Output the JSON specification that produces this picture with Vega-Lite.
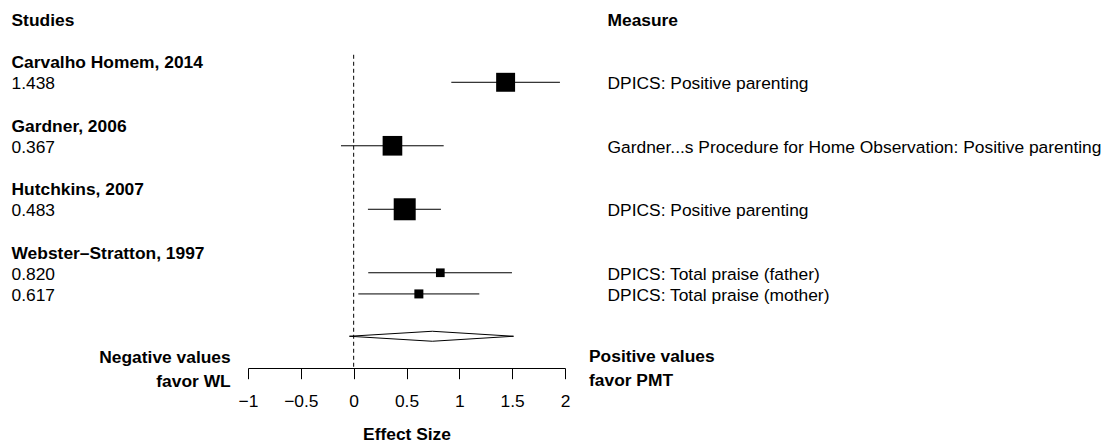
{
  "$schema": "https://vega.github.io/schema/vega-lite/v6.json",
  "width": 1109,
  "height": 368,
  "padding": 0,
  "autosize": {"type": "pad"},
  "background": "white",
  "config": {
    "view": {"stroke": null},
    "font": "Liberation Sans",
    "text": {"font": "Liberation Sans", "fontSize": 17.4, "color": "black"},
    "axis": {
      "grid": false,
      "domainColor": "black",
      "domainWidth": 1,
      "tickColor": "black",
      "tickWidth": 1,
      "tickSize": 10.7,
      "labelColor": "black",
      "labelFont": "Liberation Sans",
      "labelFontSize": 17.4,
      "labelPadding": 14.2,
      "labelFlush": false,
      "labelOverlap": false,
      "titleColor": "black",
      "titleFont": "Liberation Sans",
      "titleFontSize": 17.4,
      "titleFontWeight": "bold",
      "titlePadding": 15
    }
  },
  "datasets": {
    "estimates": [
      {"study": "Carvalho Homem, 2014", "measure": "DPICS: Positive parenting", "es": 1.438, "lo": 0.924, "hi": 1.952, "weight": 24.2, "row": 3},
      {"study": "Gardner, 2006", "measure": "Gardner...s Procedure for Home Observation: Positive parenting", "es": 0.367, "lo": -0.12, "hi": 0.852, "weight": 25.1, "row": 6},
      {"study": "Hutchkins, 2007", "measure": "DPICS: Positive parenting", "es": 0.483, "lo": 0.135, "hi": 0.826, "weight": 28.1, "row": 9},
      {"study": "Webster–Stratton, 1997", "measure": "DPICS: Total praise (father)", "es": 0.82, "lo": 0.138, "hi": 1.498, "weight": 11.1, "row": 12},
      {"study": "Webster–Stratton, 1997", "measure": "DPICS: Total praise (mother)", "es": 0.617, "lo": 0.044, "hi": 1.189, "weight": 11.5, "row": 13}
    ],
    "studies": [
      {"study": "Carvalho Homem, 2014", "row": 2},
      {"study": "Gardner, 2006", "row": 5},
      {"study": "Hutchkins, 2007", "row": 8},
      {"study": "Webster–Stratton, 1997", "row": 11}
    ],
    "summary": [
      {"es": 0.744, "lo": -0.04, "hi": 1.513, "row": 15}
    ]
  },
  "layer": [
    {
      "data": {"values": [{"es": 0}]},
      "mark": {"type": "rule", "color": "black", "strokeWidth": 1, "strokeDash": [4, 3]},
      "encoding": {
        "x": {
          "field": "es",
          "type": "quantitative",
          "title": "Effect Size",
          "scale": {"domain": [-1, 2], "range": [248, 565], "nice": false, "zero": false},
          "axis": {"values": [-1, -0.5, 0, 0.5, 1, 1.5, 2], "format": "~g"}
        },
        "y": {
          "datum": 1.7,
          "scale": {"domain": [-0.888, 16.5], "reverse": true, "nice": false, "zero": false},
          "axis": null
        },
        "y2": {"datum": 16.5}
      }
    },
    {
      "data": {"name": "estimates"},
      "mark": {"type": "rule", "color": "black", "strokeWidth": 1},
      "encoding": {
        "x": {"field": "lo", "type": "quantitative", "title": "Effect Size"},
        "x2": {"field": "hi"},
        "y": {"field": "row", "type": "quantitative"}
      }
    },
    {
      "data": {"name": "estimates"},
      "mark": {"type": "square", "filled": true, "color": "black", "opacity": 1},
      "encoding": {
        "x": {"field": "es", "type": "quantitative", "title": "Effect Size"},
        "y": {"field": "row", "type": "quantitative"},
        "size": {
          "field": "weight",
          "type": "quantitative",
          "scale": {"type": "pow", "exponent": 2, "domain": [0, 28.1], "range": [0, 484]},
          "legend": null
        }
      }
    },
    {
      "data": {"name": "summary"},
      "mark": {"type": "rule", "color": "black", "strokeWidth": 1, "y2Offset": -5},
      "encoding": {
        "x": {"field": "lo", "type": "quantitative", "title": "Effect Size"},
        "x2": {"field": "es"},
        "y": {"field": "row", "type": "quantitative"},
        "y2": {"field": "row"}
      }
    },
    {
      "data": {"name": "summary"},
      "mark": {"type": "rule", "color": "black", "strokeWidth": 1, "y2Offset": 5},
      "encoding": {
        "x": {"field": "lo", "type": "quantitative", "title": "Effect Size"},
        "x2": {"field": "es"},
        "y": {"field": "row", "type": "quantitative"},
        "y2": {"field": "row"}
      }
    },
    {
      "data": {"name": "summary"},
      "mark": {"type": "rule", "color": "black", "strokeWidth": 1, "y2Offset": -5},
      "encoding": {
        "x": {"field": "hi", "type": "quantitative", "title": "Effect Size"},
        "x2": {"field": "es"},
        "y": {"field": "row", "type": "quantitative"},
        "y2": {"field": "row"}
      }
    },
    {
      "data": {"name": "summary"},
      "mark": {"type": "rule", "color": "black", "strokeWidth": 1, "y2Offset": 5},
      "encoding": {
        "x": {"field": "hi", "type": "quantitative", "title": "Effect Size"},
        "x2": {"field": "es"},
        "y": {"field": "row", "type": "quantitative"},
        "y2": {"field": "row"}
      }
    },
    {
      "data": {"values": [{"label": "Studies", "row": 0}]},
      "mark": {"type": "text", "align": "left", "baseline": "middle", "fontWeight": "bold", "dy": 2},
      "encoding": {
        "x": {"datum": -3.238},
        "y": {"field": "row", "type": "quantitative"},
        "text": {"field": "label"}
      }
    },
    {
      "data": {"values": [{"label": "Measure", "row": 0}]},
      "mark": {"type": "text", "align": "left", "baseline": "middle", "fontWeight": "bold", "dy": 2},
      "encoding": {
        "x": {"datum": 2.402},
        "y": {"field": "row", "type": "quantitative"},
        "text": {"field": "label"}
      }
    },
    {
      "data": {"name": "studies"},
      "mark": {"type": "text", "align": "left", "baseline": "middle", "fontWeight": "bold", "dy": 2},
      "encoding": {
        "x": {"datum": -3.238},
        "y": {"field": "row", "type": "quantitative"},
        "text": {"field": "study"}
      }
    },
    {
      "data": {"name": "estimates"},
      "mark": {"type": "text", "align": "left", "baseline": "middle", "dy": 2},
      "encoding": {
        "x": {"datum": -3.238},
        "y": {"field": "row", "type": "quantitative"},
        "text": {"field": "es", "type": "quantitative", "format": ".3f"}
      }
    },
    {
      "data": {"name": "estimates"},
      "mark": {"type": "text", "align": "left", "baseline": "middle", "dy": 2},
      "encoding": {
        "x": {"datum": 2.402},
        "y": {"field": "row", "type": "quantitative"},
        "text": {"field": "measure"}
      }
    },
    {
      "data": {"values": [{"note": ["Negative values", "favor WL"]}]},
      "mark": {"type": "text", "align": "right", "baseline": "middle", "fontWeight": "bold", "lineHeight": 24.7, "dx": -17.3, "dy": -10.5},
      "encoding": {
        "x": {"datum": -1},
        "y": {"datum": 16.5},
        "text": {"field": "note"}
      }
    },
    {
      "data": {"values": [{"note": ["Positive values", "favor PMT"]}]},
      "mark": {"type": "text", "align": "left", "baseline": "middle", "fontWeight": "bold", "lineHeight": 24.7, "dx": 24, "dy": -11.5},
      "encoding": {
        "x": {"datum": 2},
        "y": {"datum": 16.5},
        "text": {"field": "note"}
      }
    }
  ]
}
